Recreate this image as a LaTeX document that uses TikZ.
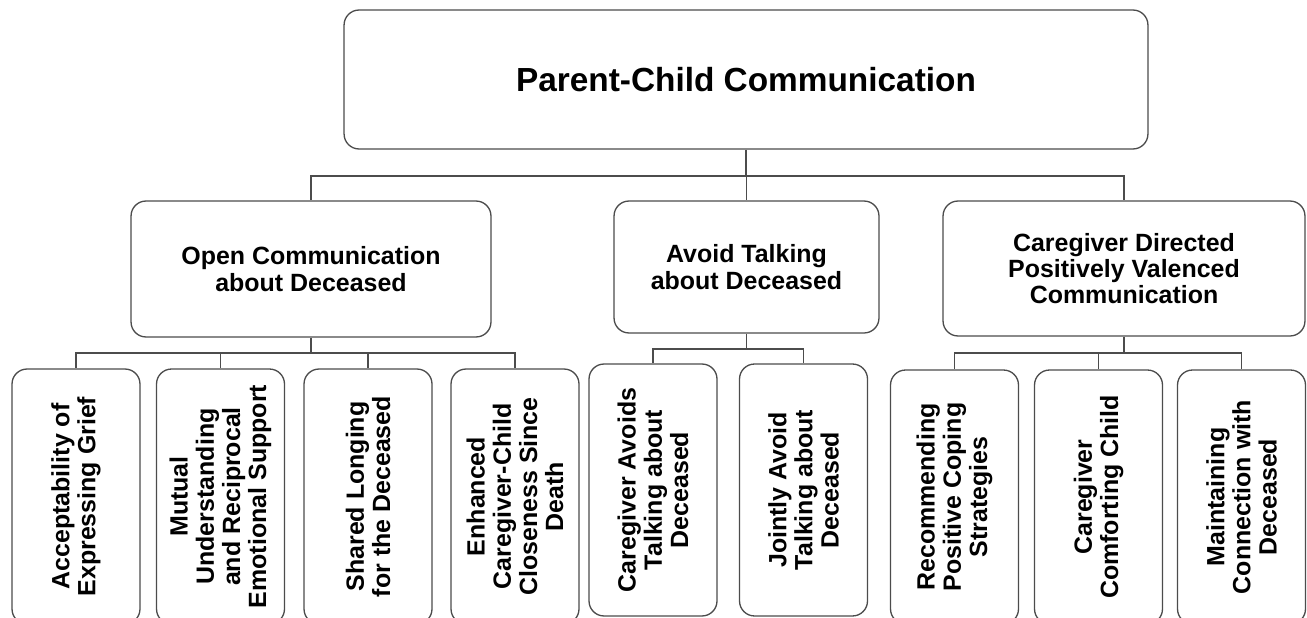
\documentclass[tikz,border=0pt]{standalone}
\usepackage{fontspec}
\setmainfont{Liberation Sans}
\begin{document}
\begin{tikzpicture}[x=0.02cm, y=-0.02cm, line width=0.75pt, every node/.style={fill=white, draw=black!70, rounded corners=0.3cm, align=center, inner sep=0pt, font=\bfseries\fontsize{14.2}{14.9}\selectfont}, leaf/.style={rotate=90, minimum height=2.56cm}]
        \clip (0,0) rectangle (1307,618);

        % top and second level
        \node(parent)[minimum width=16.08cm, minimum height=2.78cm, font=\bfseries\fontsize{19}{22}\selectfont] at (746,79.5) {Parent-Child Communication};
        \node(open)[minimum width=7.2cm, minimum height=2.72cm] at (311,269) {Open Communication\\about Deceased};
        \node(avoid)[minimum width=5.3cm, minimum height=2.64cm] at (746.5,267) {Avoid Talking\\about Deceased};
        \node(positive)[minimum width=7.24cm, minimum height=2.7cm] at (1124,268.5) {Caregiver Directed\\Positively Valenced\\Communication};

        % leaves
        \node(grief)[leaf, minimum width=5.1cm] at (76,496.5) {Acceptability of\\Expressing Grief};
        \node(mutual)[leaf, minimum width=5.1cm] at (220.5,496.5) {Mutual\\Understanding\\and Reciprocal\\Emotional Support};
        \node(longing)[leaf, minimum width=5.1cm] at (368,496.5) {Shared Longing\\for the Deceased};
        \node(closeness)[leaf, minimum width=5.1cm] at (515,496.5) {Enhanced\\Caregiver-Child\\Closeness Since\\Death};
        \node(cgavoids)[leaf, minimum width=5.04cm] at (653,490) {Caregiver Avoids\\Talking about\\Deceased};
        \node(jointly)[leaf, minimum width=5.04cm] at (803.5,490) {Jointly Avoid\\Talking about\\Deceased};
        \node(coping)[leaf, minimum width=5.08cm] at (954.5,497) {Recommending\\Positive Coping\\Strategies};
        \node(comfort)[leaf, minimum width=5.08cm] at (1098.5,497) {Caregiver\\Comforting Child};
        \node(connection)[leaf, minimum width=5.08cm] at (1241.5,497) {Maintaining\\Connection with\\Deceased};

        \coordinate(bus0) at (746,176);
        \coordinate(bus1) at (311,353);
        \coordinate(bus2) at (746.5,349);
        \coordinate(bus3) at (1124,353);

        \draw[black!70] (parent) -- (bus0);
        \foreach \n in {open, avoid, positive} \draw[black!70] (bus0) -| (\n.north);
        \draw[black!70] (open) -- (bus1);
        \foreach \n in {grief, mutual, longing, closeness} \draw[black!70] (bus1) -| (\n.east);
        \draw[black!70] (avoid) -- (bus2);
        \foreach \n in {cgavoids, jointly} \draw[black!70] (bus2) -| (\n.east);
        \draw[black!70] (positive) -- (bus3);
        \foreach \n in {coping, comfort, connection} \draw[black!70] (bus3) -| (\n.east);
    \end{tikzpicture}
\end{document}
